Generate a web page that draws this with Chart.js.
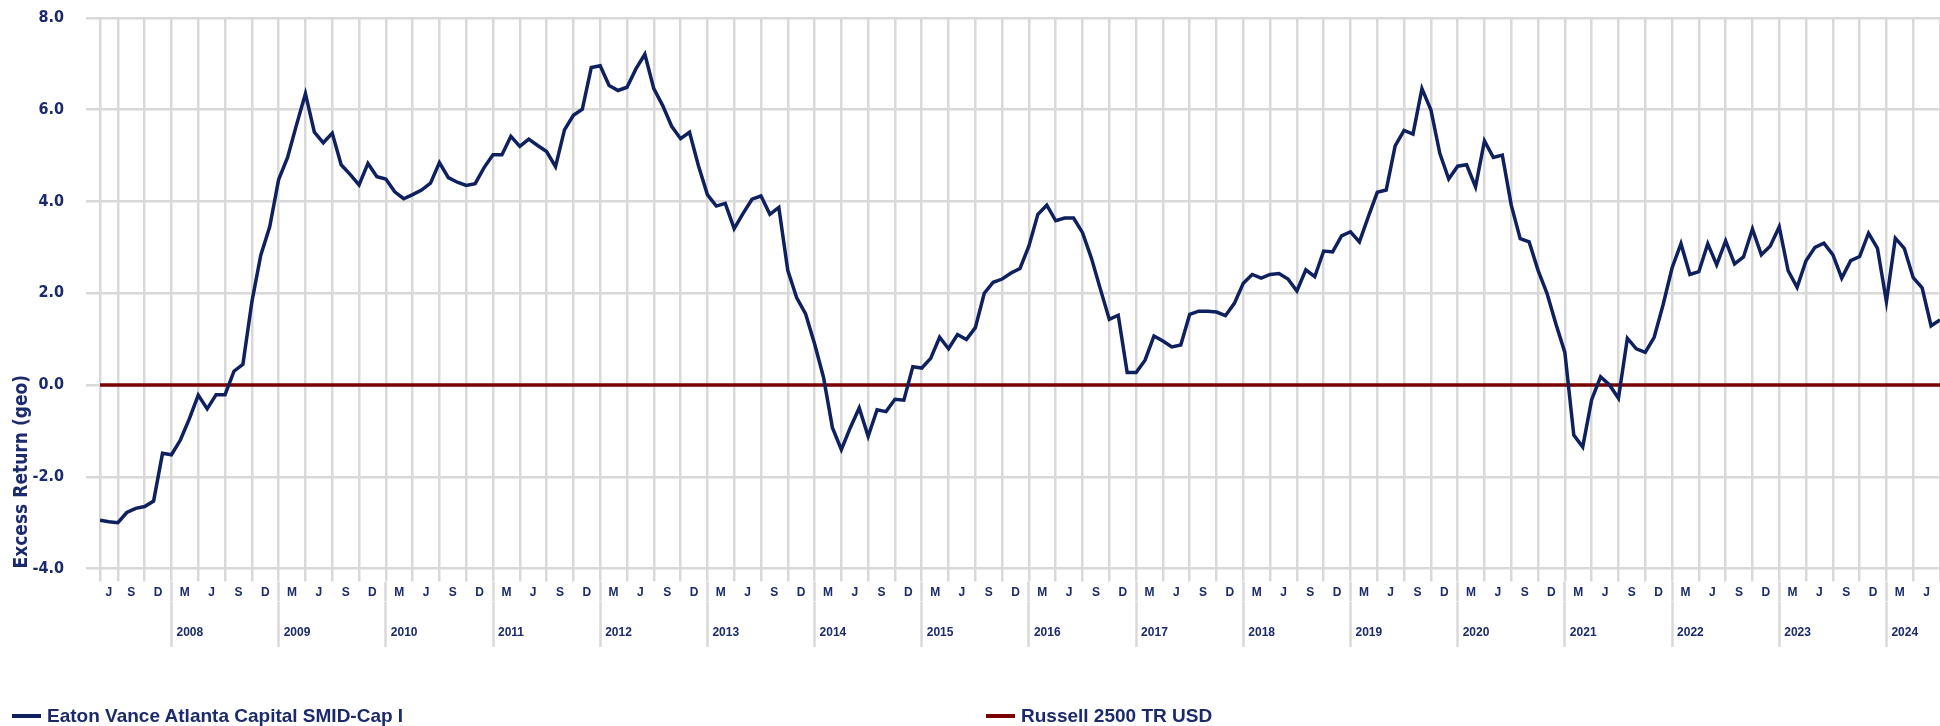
<!DOCTYPE html>
<html>
<head>
<meta charset="utf-8">
<title>Excess Return (geo)</title>
<script src="https://cdn.jsdelivr.net/npm/chart.js@4.4.1/dist/chart.umd.min.js"></script>
<style>
  html, body { margin: 0; padding: 0; background: #fff; overflow: hidden; }
  #wrap { position: relative; width: 1940px; height: 726px; }
  #legend {
    position: absolute; left: 12px; top: 704px; display: flex;
    font: bold 19px/24px "Liberation Sans", Arial, sans-serif;
    color: #1a2a6c; white-space: nowrap;
  }
  .item { display: flex; align-items: center; }
  .item:first-child { width: 974px; }
  .swatch { display: inline-block; width: 29px; height: 4px; margin-right: 6px; }
</style>
</head>
<body>
<div id="wrap">
  <canvas id="myChart" width="1940" height="726"></canvas>
  <div id="legend"></div>
</div>
<script>
// monthly excess return, Apr 2007 .. Jun 2024
const fund = [
  -2.95, -2.98, -3.00, -2.78, -2.69, -2.65, -2.53, -1.49, -1.52, -1.20,
  -0.74, -0.22, -0.52, -0.21, -0.21, 0.30, 0.45, 1.81, 2.83, 3.45,
  4.48, 4.96, 5.67, 6.35, 5.51, 5.28, 5.49, 4.80, 4.59, 4.36,
  4.83, 4.54, 4.49, 4.21, 4.06, 4.15, 4.25, 4.40, 4.85, 4.52,
  4.42, 4.35, 4.39, 4.74, 5.02, 5.02, 5.42, 5.20, 5.36, 5.22,
  5.09, 4.76, 5.56, 5.88, 6.01, 6.92, 6.96, 6.53, 6.42, 6.49,
  6.89, 7.21, 6.46, 6.09, 5.64, 5.37, 5.51, 4.78, 4.15, 3.90,
  3.96, 3.41, 3.74, 4.05, 4.12, 3.72, 3.87, 2.50, 1.90, 1.55,
  0.90, 0.17, -0.93, -1.41, -0.93, -0.50, -1.12, -0.54, -0.58, -0.31,
  -0.33, 0.40, 0.37, 0.58, 1.04, 0.79, 1.10, 0.99, 1.25, 2.00,
  2.24, 2.31, 2.44, 2.54, 3.03, 3.72, 3.92, 3.58, 3.64, 3.64,
  3.32, 2.76, 2.09, 1.43, 1.52, 0.27, 0.27, 0.54, 1.07, 0.96,
  0.83, 0.87, 1.54, 1.61, 1.61, 1.59, 1.51, 1.78, 2.22, 2.41,
  2.33, 2.41, 2.43, 2.31, 2.05, 2.51, 2.36, 2.92, 2.90, 3.25,
  3.34, 3.12, 3.67, 4.20, 4.25, 5.21, 5.55, 5.47, 6.46, 6.00,
  5.05, 4.49, 4.77, 4.80, 4.32, 5.32, 4.96, 5.01, 3.92, 3.19,
  3.12, 2.50, 2.00, 1.33, 0.71, -1.09, -1.35, -0.32, 0.18, 0.00,
  -0.29, 1.02, 0.79, 0.71, 1.04, 1.75, 2.55, 3.08, 2.41, 2.47,
  3.08, 2.62, 3.14, 2.64, 2.79, 3.40, 2.84, 3.03, 3.45, 2.49,
  2.13, 2.71, 3.00, 3.09, 2.84, 2.33, 2.71, 2.80, 3.31, 2.98,
  1.82, 3.20, 2.98, 2.34, 2.12, 1.29, 1.42
];
// benchmark vs itself is flat zero
const benchmark = fund.map(() => 0);

const seriesNames = ["Eaton Vance Atlanta Capital SMID-Cap I", "Russell 2500 TR USD"];
const yTicks = [-4, -2, 0, 2, 4, 6, 8];
const monthLetters = ["J", "F", "M", "A", "M", "J", "J", "A", "S", "O", "N", "D"];
const years = ["2008", "2009", "2010", "2011", "2012", "2013", "2014", "2015", "2016",
               "2017", "2018", "2019", "2020", "2021", "2022", "2023", "2024"];
const firstYear = 2007, firstMonth = 3; // April 2007

const navy = "#0f205e";
const red = "#7b0000";
const textColor = "#1a2a6c";
const gridColor = "#d9d9d9";
const sans = "'Liberation Sans', Arial, sans-serif";
const condensed = "'DejaVu Sans Condensed', 'Liberation Sans', sans-serif";

// month index -> calendar month
const months = fund.map((v, i) => {
  const m = firstMonth + i;
  return { year: firstYear + Math.floor(m / 12), month: m % 12 };
});
const last = months.length - 1;

const quarterEnds = [];
const yearEnds = [];
months.forEach((m, i) => {
  if (m.month % 3 === 2) quarterEnds.push(i);
  if (m.month === 11) yearEnds.push(i);
});

// quarter letters sit in the middle of each quarter
const monthLabels = new Map();
quarterEnds.forEach((q, k) => {
  const prev = k === 0 ? 0 : quarterEnds[k - 1];
  monthLabels.set((prev + q) / 2, monthLetters[months[q].month]);
});
yearEnds.forEach(v => monthLabels.set(v, ""));
const monthTickValues = Array.from(monthLabels.keys()).sort((a, b) => a - b);

const yearLabels = new Map();
yearEnds.forEach((v, k) => yearLabels.set(v, years[k]));

const isYearEnd = v => yearEnds.indexOf(v) !== -1;

const ctx = document.getElementById("myChart");
const chart = new Chart(ctx, {
  type: "line",
  data: {
    datasets: [
      {
        label: seriesNames[0],
        data: fund.map((v, i) => ({ x: i, y: v })),
        borderColor: navy,
        borderWidth: 3.5,
        pointRadius: 0,
        tension: 0,
      },
      {
        label: seriesNames[1],
        data: benchmark.map((v, i) => ({ x: i, y: v })),
        borderColor: red,
        borderWidth: 3.5,
        pointRadius: 0,
        tension: 0,
      },
    ],
  },
  options: {
    responsive: false,
    animation: false,
    devicePixelRatio: 1,
    layout: { autoPadding: false, padding: { top: 18, bottom: 79, left: 0, right: 0 } },
    plugins: { legend: { display: false }, tooltip: { enabled: false } },
    scales: {
      x: {
        type: "linear",
        position: "bottom",
        weight: 0,
        min: 0,
        max: last,
        afterBuildTicks: s => { s.ticks = [0].concat(quarterEnds).map(v => ({ value: v })); },
        afterFit: s => { s.height = 13; },
        border: { display: false },
        grid: { color: gridColor, lineWidth: 2.5, tickLength: 13 },
        ticks: { display: false },
      },
      xm: {
        type: "linear",
        position: "bottom",
        weight: 1,
        min: 0,
        max: last,
        afterBuildTicks: s => { s.ticks = monthTickValues.map(v => ({ value: v })); },
        afterFit: s => { s.height = 20; },
        border: { display: false },
        grid: {
          drawOnChartArea: false,
          tickLength: 20,
          tickWidth: 2.5,
          tickColor: c => (c.tick && isYearEnd(c.tick.value)) ? gridColor : "rgba(0,0,0,0)",
        },
        ticks: {
          autoSkip: false,
          maxRotation: 0,
          minRotation: 0,
          padding: -15.7,
          color: textColor,
          font: { family: sans, size: 12, weight: "bold" },
          callback: v => monthLabels.get(v),
        },
      },
      xy: {
        type: "linear",
        position: "bottom",
        weight: 2,
        min: 0,
        max: last,
        afterBuildTicks: s => { s.ticks = yearEnds.map(v => ({ value: v })); },
        afterFit: s => { s.height = 45.5; },
        border: { display: false },
        grid: { drawOnChartArea: false, tickLength: 45.5, tickWidth: 2.5, tickColor: gridColor },
        ticks: {
          autoSkip: false,
          maxRotation: 0,
          minRotation: 0,
          align: "start",
          labelOffset: 5,
          padding: -21.4,
          color: textColor,
          font: { family: sans, size: 12, weight: "bold" },
          callback: v => yearLabels.get(v),
        },
      },
      y: {
        min: -4,
        max: 8,
        afterBuildTicks: s => { s.ticks = yTicks.map(v => ({ value: v })); },
        afterFit: s => { s.width = 100; s.paddingTop = 0; s.paddingBottom = 0; },
        border: { display: false },
        grid: { color: gridColor, lineWidth: 2.5, tickLength: 14 },
        ticks: {
          padding: 22,
          color: textColor,
          font: { family: condensed, size: 16, weight: "bold" },
          callback: v => v.toFixed(1),
        },
        title: {
          display: true,
          text: "Excess Return (geo)",
          align: "start",
          color: textColor,
          font: { family: condensed, size: 19, weight: "bold" },
          padding: { top: 11, bottom: 0 },
        },
      },
    },
  },
});

// legend built from the chart's datasets
const legend = document.getElementById("legend");
chart.data.datasets.forEach(ds => {
  const item = document.createElement("div");
  item.className = "item";
  const sw = document.createElement("span");
  sw.className = "swatch";
  sw.style.background = ds.borderColor;
  const txt = document.createElement("span");
  txt.textContent = ds.label;
  item.append(sw, txt);
  legend.append(item);
});
</script>
</body>
</html>
